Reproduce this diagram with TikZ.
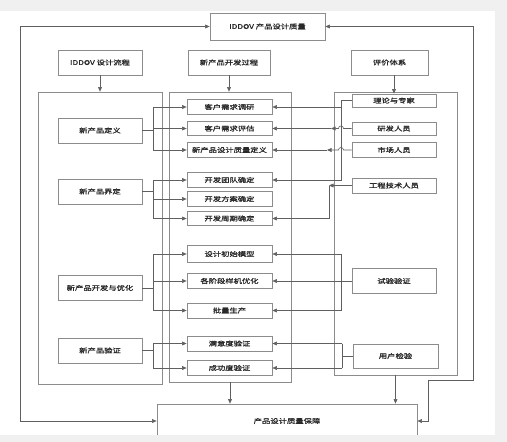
\documentclass[tikz,border=0pt]{standalone}
\usepackage{fontspec}
\newfontfamily\cjk[FakeStretch=1.3,FakeBold=1.2]{Noto Sans CJK SC}
\usetikzlibrary{arrows.meta}
\definecolor{bggray}{RGB}{240,240,240}
\definecolor{boxgray}{RGB}{140,140,140}
\definecolor{linegray}{RGB}{95,95,95}
\definecolor{txt}{RGB}{40,40,40}
\tikzset{
  box/.style={draw=boxgray, line width=0.8pt, fill=white, inner sep=0pt, text=txt,
    font=\cjk\fontsize{6.4}{7}\selectfont},
  framebox/.style={draw=boxgray, line width=0.8pt, inner sep=0pt},
  conn/.style={draw=linegray, line width=0.6pt},
  arr/.style={-{Triangle[length=4.5pt,width=3.8pt]}},
  dbl/.style={{Triangle[length=4.5pt,width=3.8pt]}-{Triangle[length=4.5pt,width=3.8pt]}},
}
\begin{document}
\begin{tikzpicture}[x=1pt,y=-1pt]
\useasboundingbox (0,0) rectangle (507,442);
\fill[bggray] (0,0) rectangle (507,442);
\fill[white] (0,11) rectangle (495,435);

% top and headers
\node[box, minimum width=115, minimum height=27] (top) at (267.5,26.5) {IDDOV 产品设计质量};
\node[box, minimum width=84, minimum height=25] (h1) at (100,62.5) {IDDOV 设计流程};
\node[box, minimum width=82, minimum height=25] (h2) at (229,62.5) {新产品开发过程};
\node[box, minimum width=77, minimum height=25] (h3) at (389.5,62.5) {评价体系};

% frames
\node[framebox, minimum width=124, minimum height=292] (fl) at (100,238) {};
\node[framebox, minimum width=122, minimum height=290] (fm) at (230,237) {};
\node[framebox, minimum width=123, minimum height=283] (fr) at (395.5,233.5) {};

% bottom box
\node[box, minimum width=260, minimum height=34] (bot) at (287,421) {产品设计质量保障};

% left nodes
\node[box, minimum width=84, minimum height=25] (l1) at (100,130.5) {新产品定义};
\node[box, minimum width=84, minimum height=25] (l2) at (100,191.5) {新产品界定};
\node[box, minimum width=84, minimum height=25] (l3) at (100,288) {新产品开发与优化};
\node[box, minimum width=84, minimum height=25] (l4) at (100,350.5) {新产品验证};

% middle nodes
\node[box, minimum width=85, minimum height=14.5] (m1) at (229.5,107) {客户需求调研};
\node[box, minimum width=85, minimum height=14.5] (m2) at (229.5,128.5) {客户需求评估};
\node[box, minimum width=85, minimum height=14.5] (m3) at (229.5,150) {新产品设计质量定义};
\node[box, minimum width=85, minimum height=14.5] (m4) at (229.5,180) {开发团队确定};
\node[box, minimum width=85, minimum height=14.5] (m5) at (229.5,199) {开发方案确定};
\node[box, minimum width=85, minimum height=14.5] (m6) at (229.5,218.5) {开发周期确定};
\node[box, minimum width=85, minimum height=17] (m7) at (229.5,254) {设计初始模型};
\node[box, minimum width=85, minimum height=15] (m8) at (229.5,281) {各阶段样机优化};
\node[box, minimum width=85, minimum height=15] (m9) at (229.5,310.5) {批量生产};
\node[box, minimum width=85, minimum height=15] (m10) at (229.5,343.5) {满意度验证};
\node[box, minimum width=85, minimum height=15] (m11) at (229.5,368) {成功度验证};

% right nodes
\node[box, minimum width=84, minimum height=13] (r1) at (394,100.5) {理论与专家};
\node[box, minimum width=84, minimum height=13] (r2) at (394,128.5) {研发人员};
\node[box, minimum width=84, minimum height=15] (r3) at (394,150) {市场人员};
\node[box, minimum width=84, minimum height=15] (r4) at (394,185.5) {工程技术人员};
\node[box, minimum width=84, minimum height=25] (r5) at (394,281) {试验验证};
\node[box, minimum width=85, minimum height=24] (r6) at (395.5,356) {用户检验};

% header arrows
\draw[conn,arr] (h1.south) -- (h1.south |- fl.north);
\draw[conn,arr] (h2.south) -- (h2.south |- fm.north);
\draw[conn,arr] (r1.north |- h3.south) -- (r1.north);
\draw[conn,arr] (fm.south) -- (fm.south |- bot.north);
\draw[conn,arr] (fr.south) -- (fr.south |- bot.north);

% outer loops
\draw[conn,dbl] (bot.west) -- (20,421) -- (20,26.5) -- (top.west);
\draw[conn,dbl] (top.east) -- (473,26.5) -- (473,380) -- (428,380) -- (428,421) -- (bot.east);

% left connectors
\coordinate (a1) at (153,130.5);
\draw[conn] (l1.east) -- (a1);
\draw[conn] (153,107) -- (153,150);
\foreach \m in {m1,m2,m3} \draw[conn,arr] (153,0 |- \m.west) -- (\m.west);
\draw[conn] (l2.east) -- (153,191.5);
\draw[conn] (153,180) -- (153,218.5);
\foreach \m in {m4,m5,m6} \draw[conn,arr] (153,0 |- \m.west) -- (\m.west);
\draw[conn] (l3.east) -- (153,288);
\draw[conn] (153,254) -- (153,310.5);
\foreach \m in {m7,m8,m9} \draw[conn,arr] (153,0 |- \m.west) -- (\m.west);
\draw[conn] (l4.east) -- (153,350.5);
\draw[conn] (153,343.5) -- (153,368);
\foreach \m in {m10,m11} \draw[conn,arr] (153,0 |- \m.west) -- (\m.west);

% right connectors
\draw[conn,arr] (r1.west) -- (341,100.5) -- (341,180) -- (m4.east);
\draw[conn,arr] (341,107) -- (m1.east);
\coordinate (k2) at (331,128.5);
\draw[conn,arr] (r2.west) -- (343.5,128.5) arc[start angle=0,end angle=-180,radius=2.5] -- (k2);
\draw[conn,arr] (k2) -- (m2.east);
\coordinate (k3) at (327,150);
\draw[conn,arr] (r3.west) -- (343.5,150) arc[start angle=0,end angle=-180,radius=2.5] -- (k3);
\draw[conn,arr] (k3) -- (m3.east);
\coordinate (k4) at (329,185.5);
\draw[conn,arr] (r4.west) -- (k4);
\draw[conn,arr] (k4) |- (m6.east);
\draw[conn] (r5.west) -- (341,281);
\draw[conn] (341,254) -- (341,310.5);
\foreach \m in {m7,m8,m9} \draw[conn,arr] (341,0 |- \m.east) -- (\m.east);
\draw[conn] (r6.west) -- (342,356);
\draw[conn] (342,343.5) -- (342,368);
\foreach \m in {m10,m11} \draw[conn,arr] (342,0 |- \m.east) -- (\m.east);

\fill[bggray] (0,435) rectangle (507,442);
\end{tikzpicture}
\end{document}
